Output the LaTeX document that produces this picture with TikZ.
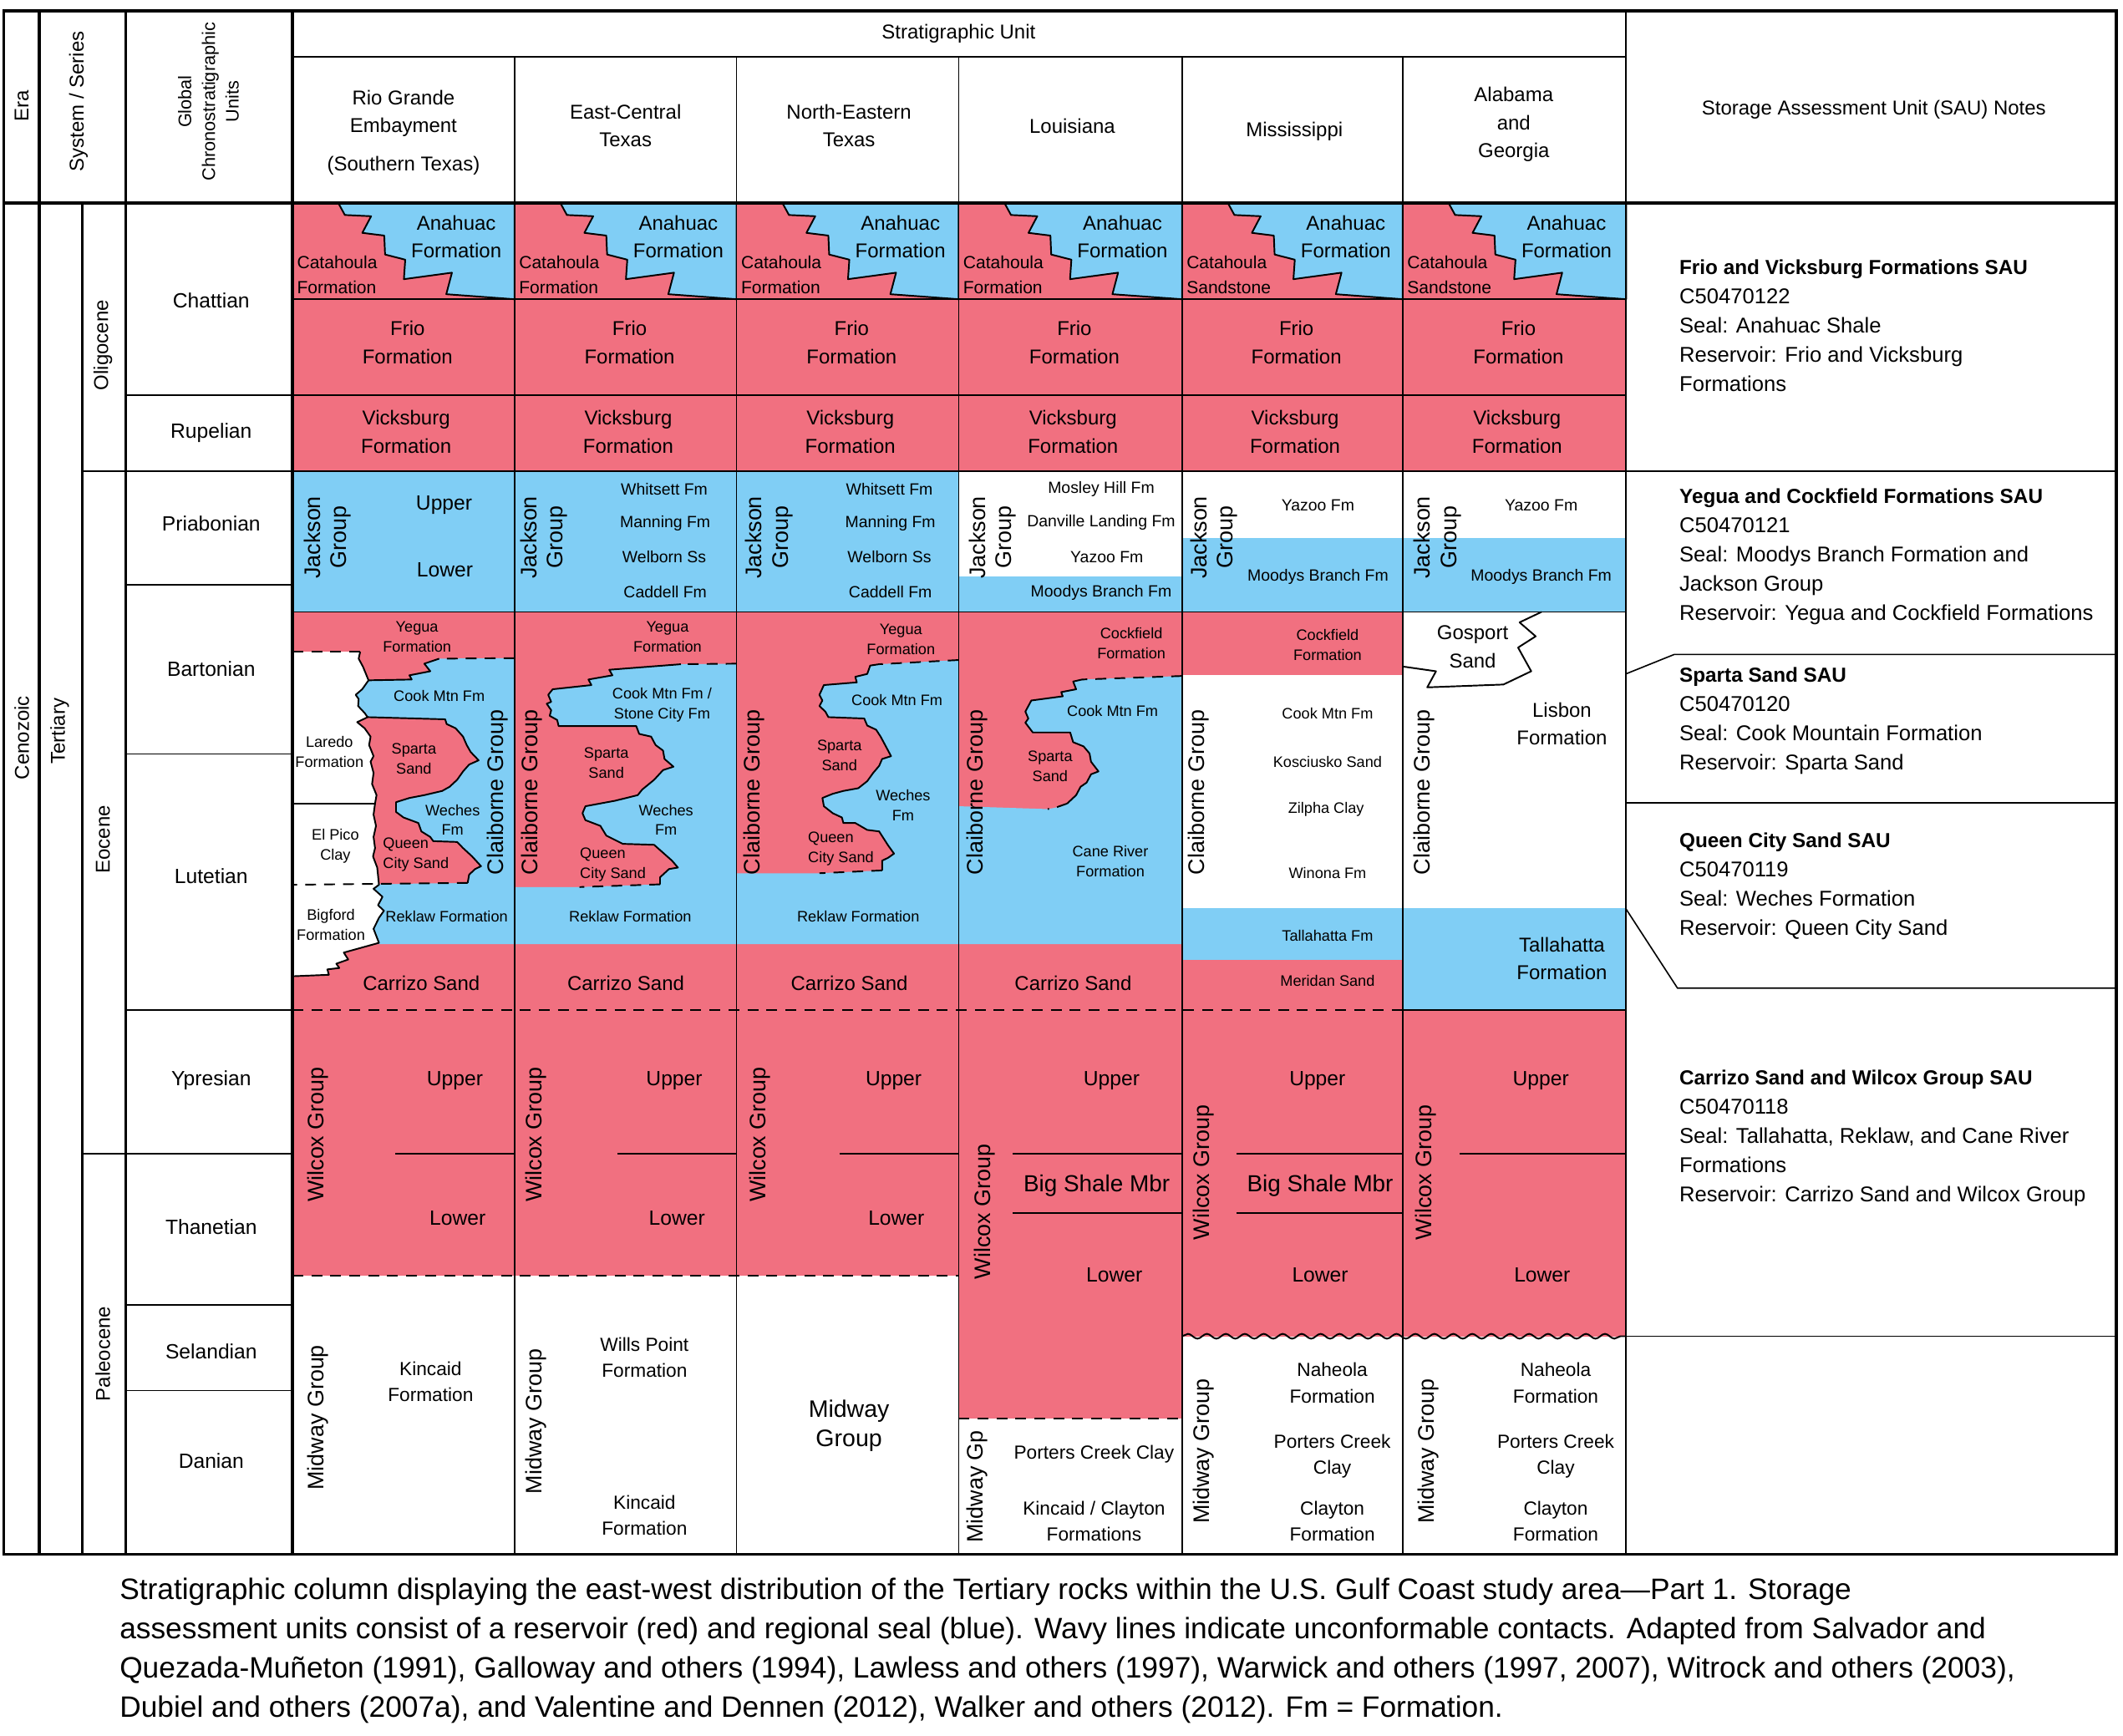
\documentclass[tikz,border=0pt]{standalone}
\usepackage{fontspec}
\setmainfont{Liberation Sans}
\usetikzlibrary{decorations.pathmorphing}
\definecolor{resred}{RGB}{241,112,128}
\definecolor{sealblue}{RGB}{128,206,245}
\newcommand{\fs}[2]{\fontsize{#1}{#2}\selectfont}
\begin{document}
\begin{tikzpicture}[x=0.5pt,y=-0.5pt,
  frame/.style={line width=1pt},
  rule/.style={line width=0.5pt},
  res/.style={fill=resred},
  seal/.style={fill=sealblue},
  contact/.style={line width=0.6pt,line join=round},
  uncon/.style={line width=0.6pt,dash pattern=on 4pt off 3pt},
  wavy/.style={line width=0.6pt,decorate,decoration={snake,amplitude=0.9pt,segment length=7pt}},
  hdr/.style={font=\fs{7.4}{10.3},align=center,inner sep=0pt},
  unit/.style={font=\fs{7.4}{10.3},align=center,inner sep=0pt},
  sub/.style={font=\fs{7.6}{10},align=center,inner sep=0pt},
  pal/.style={font=\fs{7}{9.6},align=center,inner sep=0pt},
  sm/.style={font=\fs{5.6}{7.4},align=center,inner sep=0pt},
  md/.style={font=\fs{6}{8},align=center,inner sep=0pt},
  grp/.style={font=\fs{8.3}{9.7},align=center,inner sep=0pt,rotate=90},
  stage/.style={font=\fs{7.6}{10},inner sep=0pt},
  sau/.style={font=\fs{7.9}{10.8},align=left,anchor=north west,inner sep=0pt}]
\useasboundingbox (0,0) rectangle (1568,1282);
\fill[white] (0,0) rectangle (1568,1282);

% Oligocene: Catahoula / Anahuac, Frio, Vicksburg in every column
\foreach \l/\r/\cat [count=\i] in {216/380/Formation,380/544/Formation,544/708/Formation,708/873/Formation,873/1036/Sandstone,1036/1201/Sandstone}{
  \fill[res] (\l,150) rectangle (\r,348);
  \filldraw[seal,draw=black,contact] ({\l+33.9},150) -- ({\l+38.7},158.8) -- ({\l+58.1},159.7) -- ({\l+51.6},172) -- ({\l+67.8},174) -- ({\l+68.4},188) -- ({\l+83.3},191.8) -- ({\l+82.3},206.2) -- ({\l+117.8},201.4) -- ({\l+113.6},217.3) -- (\r,221) -- (\r,150) -- cycle;
  \node[unit] (anahuac-\i) at ({\l+121},175) {Anahuac\\Formation};
  \node[font=\fs{6.5}{9},align=left,inner sep=0pt,anchor=west] (catahoula-\i) at ({\l+3},203) {Catahoula\\\cat};
  \node[unit] (frio-\i) at ({(\l+\r)/2+3},253) {Frio\\Formation};
  \node[unit] (vicksburg-\i) at ({(\l+\r)/2+2},319) {Vicksburg\\Formation};
}

% Rio Grande Embayment
\fill[seal] (216,348) rectangle (380,452);
\fill[res] (216,452) rectangle (380,746);
\fill[seal] (380,486.1) -- (324.4,486.5) -- (313.4,490.2) -- (317.8,495.8) -- (302.4,498.8) -- (304.1,501.9) -- (250,502.5) -- (250,697.4) -- (380,697.4) -- cycle;
\fill[res] (250,529.7) -- (328.8,531.3) -- (329.9,534.8) -- (336.5,537.9) -- (342.0,544.1) -- (344.7,550.3) -- (347.6,555.4) -- (353.5,561.6) -- (346.5,564.7) -- (342.0,569.8) -- (337.6,576.0) -- (332.1,581.1) -- (326.6,584.2) -- (313.4,587.3) -- (302.4,589.4) -- (292.5,592.5) -- (292.5,599.7) -- (298.0,603.8) -- (309.0,607.9) -- (311.2,614.1) -- (317.8,618.2) -- (320.0,621.3) -- (337.6,621.9) -- (342.0,626.4) -- (348.7,632.6) -- (355.3,639.8) -- (350.9,641.9) -- (346.5,646.0) -- (345.4,652.1) -- (250,653.5) -- cycle;
\fill[white] (216,481.4) -- (266.0,481.4) -- (264.9,486.5) -- (268.2,492.7) -- (272.2,502.5) -- (267.5,509.1) -- (262.7,513.2) -- (264.9,516.3) -- (264.5,521.5) -- (269.3,526.6) -- (271.5,529.7) -- (263.8,533.4) -- (269.3,537.9) -- (273.7,544.1) -- (272.6,550.3) -- (275.9,558.5) -- (273.7,562.6) -- (275.9,570.9) -- (274.8,579.1) -- (278.1,587.3) -- (277.0,593.5) -- (275.9,601.7) -- (277.7,610.0) -- (275.9,618.2) -- (277.0,626.4) -- (275.5,632.6) -- (278.6,640.8) -- (279.9,653.5) -- (275.9,656.5) -- (282.5,662.4) -- (279.2,668.6) -- (283.6,672.7) -- (279.9,677.9) -- (275.9,686.1) -- (279.9,696.4) -- (253.9,703.6) -- (257.2,708.7) -- (248.4,711.8) -- (250.6,715.0) -- (241.8,716.0) -- (242.9,720.0) -- (216,721.1) -- cycle;
\draw[contact] (266.0,481.4) -- (264.9,486.5) -- (268.2,492.7) -- (272.2,502.5) -- (267.5,509.1) -- (262.7,513.2) -- (264.9,516.3) -- (264.5,521.5) -- (269.3,526.6) -- (271.5,529.7) -- (263.8,533.4) -- (269.3,537.9) -- (273.7,544.1) -- (272.6,550.3) -- (275.9,558.5) -- (273.7,562.6) -- (275.9,570.9) -- (274.8,579.1) -- (278.1,587.3) -- (277.0,593.5) -- (275.9,601.7) -- (277.7,610.0) -- (275.9,618.2) -- (277.0,626.4) -- (275.5,632.6) -- (278.6,640.8) -- (279.9,653.5) -- (275.9,656.5) -- (282.5,662.4) -- (279.2,668.6) -- (283.6,672.7) -- (279.9,677.9) -- (275.9,686.1) -- (279.9,696.4) -- (253.9,703.6) -- (257.2,708.7) -- (248.4,711.8) -- (250.6,715.0) -- (241.8,716.0) -- (242.9,720.0) -- (216,721.1);
\draw[uncon] (216,481.4) -- (266.0,481.4);
\draw[uncon] (380,486.1) -- (324.4,486.5);
\draw[contact] (324.4,486.5) -- (313.4,490.2) -- (317.8,495.8) -- (302.4,498.8) -- (304.1,501.9) -- (272.2,502.5);
\draw[contact] (271.5,529.7) -- (328.8,531.3) -- (329.9,534.8) -- (336.5,537.9) -- (342.0,544.1) -- (344.7,550.3) -- (347.6,555.4) -- (353.5,561.6) -- (346.5,564.7) -- (342.0,569.8) -- (337.6,576.0) -- (332.1,581.1) -- (326.6,584.2) -- (313.4,587.3) -- (302.4,589.4) -- (292.5,592.5) -- (292.5,599.7) -- (298.0,603.8) -- (309.0,607.9) -- (311.2,614.1) -- (317.8,618.2) -- (320.0,621.3) -- (337.6,621.9) -- (342.0,626.4) -- (348.7,632.6) -- (355.3,639.8) -- (350.9,641.9) -- (346.5,646.0) -- (345.4,652.1);
\draw[uncon] (345.4,652.1) -- (216,653.5);
\draw[contact] (216,593.5) -- (277.0,593.5);

% East-Central Texas
\fill[seal] (380,348) rectangle (544,452);
\fill[res] (380,452) rectangle (544,746);
\fill[seal] (544,490.2) -- (502.9,490.6) -- (450.0,494.7) -- (452.3,498.8) -- (434.6,501.9) -- (436.8,506.0) -- (408.2,509.1) -- (404.9,513.2) -- (407.1,518.4) -- (403.8,519.8) -- (407.1,524.6) -- (406.0,528.7) -- (411.5,531.8) -- (412.6,536.3) -- (469.9,536.3) -- (472.1,542.1) -- (480.9,544.1) -- (484.2,550.3) -- (489.7,554.4) -- (490.8,560.6) -- (497.4,566.3) -- (489.7,568.8) -- (483.1,576.0) -- (474.3,583.2) -- (471.0,587.3) -- (454.5,591.4) -- (432.4,595.5) -- (430.2,600.7) -- (432.4,605.8) -- (443.4,610.0) -- (447.8,617.2) -- (460.0,623.3) -- (483.1,624.0) -- (496.3,635.7) -- (500.7,640.8) -- (494.1,641.9) -- (487.5,648.0) -- (487.5,653.2) -- (428.0,655.2) -- (380,655.2) -- (380,697.4) -- (544,697.4) -- cycle;
\draw[uncon] (544,490.2) -- (502.9,490.6);
\draw[contact] (502.9,490.6) -- (450.0,494.7) -- (452.3,498.8) -- (434.6,501.9) -- (436.8,506.0) -- (408.2,509.1) -- (404.9,513.2) -- (407.1,518.4) -- (403.8,519.8) -- (407.1,524.6) -- (406.0,528.7) -- (411.5,531.8) -- (412.6,536.3) -- (469.9,536.3) -- (472.1,542.1) -- (480.9,544.1) -- (484.2,550.3) -- (489.7,554.4) -- (490.8,560.6) -- (497.4,566.3) -- (489.7,568.8) -- (483.1,576.0) -- (474.3,583.2) -- (471.0,587.3) -- (454.5,591.4) -- (432.4,595.5) -- (430.2,600.7) -- (432.4,605.8) -- (443.4,610.0) -- (447.8,617.2) -- (460.0,623.3) -- (483.1,624.0) -- (496.3,635.7) -- (500.7,640.8) -- (494.1,641.9) -- (487.5,648.0) -- (487.5,653.2);
\draw[uncon] (487.5,653.2) -- (428.0,655.2);

% North-Eastern Texas
\fill[seal] (544,348) rectangle (708,452);
\fill[res] (544,452) rectangle (708,746);
\fill[seal] (708,487.5) -- (649.3,490.6) -- (642.7,491.6) -- (640.5,497.8) -- (631.7,499.9) -- (632.8,504.0) -- (608.5,506.0) -- (605.2,513.2) -- (607.4,517.4) -- (605.2,521.5) -- (609.6,525.6) -- (611.8,529.7) -- (638.3,530.7) -- (640.5,535.9) -- (647.1,539.0) -- (650.4,544.1) -- (652.6,548.2) -- (654.8,552.3) -- (658.1,558.5) -- (651.5,560.6) -- (649.3,565.7) -- (644.9,570.9) -- (640.5,577.0) -- (633.9,582.2) -- (622.9,584.2) -- (615.1,586.3) -- (607.4,589.4) -- (608.5,595.5) -- (615.1,600.7) -- (621.8,603.8) -- (622.9,607.9) -- (631.7,607.9) -- (640.5,613.0) -- (649.3,614.1) -- (655.9,624.4) -- (660.3,630.5) -- (655.9,633.6) -- (651.5,635.7) -- (651.5,642.9) -- (605.2,645.0) -- (544,645.0) -- (544,697.4) -- (708,697.4) -- cycle;
\draw[uncon] (708,487.5) -- (649.3,490.6);
\draw[contact] (649.3,490.6) -- (642.7,491.6) -- (640.5,497.8) -- (631.7,499.9) -- (632.8,504.0) -- (608.5,506.0) -- (605.2,513.2) -- (607.4,517.4) -- (605.2,521.5) -- (609.6,525.6) -- (611.8,529.7) -- (638.3,530.7) -- (640.5,535.9) -- (647.1,539.0) -- (650.4,544.1) -- (652.6,548.2) -- (654.8,552.3) -- (658.1,558.5) -- (651.5,560.6) -- (649.3,565.7) -- (644.9,570.9) -- (640.5,577.0) -- (633.9,582.2) -- (622.9,584.2) -- (615.1,586.3) -- (607.4,589.4) -- (608.5,595.5) -- (615.1,600.7) -- (621.8,603.8) -- (622.9,607.9) -- (631.7,607.9) -- (640.5,613.0) -- (649.3,614.1) -- (655.9,624.4) -- (660.3,630.5) -- (655.9,633.6) -- (651.5,635.7) -- (651.5,642.9);
\draw[uncon] (651.5,642.9) -- (605.2,645.0);

% Louisiana
\fill[white] (708,348) rectangle (873,425.8);
\fill[seal] (708,425.8) rectangle (873,452);
\fill[res] (708,452) rectangle (873,746);
\fill[seal] (873,499.3) -- (799.2,501.9) -- (792.6,503.4) -- (794.8,509.1) -- (783.8,511.2) -- (784.9,514.3) -- (761.7,517.4) -- (757.3,525.6) -- (759.5,530.7) -- (757.3,533.8) -- (762.8,541.0) -- (790.4,541.0) -- (792.6,548.2) -- (800.3,551.3) -- (804.7,556.5) -- (805.8,562.6) -- (811.3,569.8) -- (805.8,571.9) -- (802.5,578.1) -- (798.1,581.1) -- (794.8,587.3) -- (788.2,593.5) -- (779.4,596.6) -- (773.8,597.6) -- (708,595.5) -- (708,697.4) -- (873,697.4) -- cycle;
\draw[uncon] (873,499.3) -- (799.2,501.9);
\draw[contact] (799.2,501.9) -- (792.6,503.4) -- (794.8,509.1) -- (783.8,511.2) -- (784.9,514.3) -- (761.7,517.4) -- (757.3,525.6) -- (759.5,530.7) -- (757.3,533.8) -- (762.8,541.0) -- (790.4,541.0) -- (792.6,548.2) -- (800.3,551.3) -- (804.7,556.5) -- (805.8,562.6) -- (811.3,569.8) -- (805.8,571.9) -- (802.5,578.1) -- (798.1,581.1) -- (794.8,587.3) -- (788.2,593.5);
\draw[uncon] (788.2,593.5) -- (779.4,596.6) -- (773.8,597.6);

% Mississippi
\fill[white] (873,348) rectangle (1036,397.5);
\fill[seal] (873,397.5) rectangle (1036,452);
\fill[res] (873,452) rectangle (1036,498.8);
\fill[seal] (873,670.7) rectangle (1036,708.7);
\fill[res] (873,708.7) rectangle (1036,746);

% Alabama and Georgia
\fill[white] (1036,348) rectangle (1201,397.5);
\fill[seal] (1036,397.5) rectangle (1201,452);
\fill[seal] (1036,670.7) rectangle (1201,746);
\draw[contact] (1036,492.3) -- (1060.6,495.8) -- (1054.1,507.7) -- (1110.4,505.6) -- (1130.9,495.8) -- (1121.2,478.3) -- (1134.2,470.0) -- (1122.3,459.7) -- (1138.5,452);

% Wilcox Group and Midway Group
\fill[res] (216,746) rectangle (708,942);
\fill[res] (708,746) rectangle (873,1048);
\fill[res] (873,746) rectangle (1201,987);
\draw[uncon] (216,746) -- (1036,746);
\draw[rule] (1036,746) -- (1201,746);
\draw[uncon] (216,942) -- (708,942);
\draw[uncon] (708,1048) -- (873,1048);
\draw[wavy] (873,987) -- (1201,987);
\foreach \a/\b in {292/380,456/544,620/708,748/873,913/1036,1078/1201}
  \draw[rule] (\a,852) -- (\b,852);
\draw[rule] (748,896) -- (873,896);
\draw[rule] (913,896) -- (1036,896);

% grid
\draw[rule] (216,42) -- (1201,42);
\draw[rule] (216,221) -- (1201,221);
\draw[rule] (216,292) -- (1201,292);
\draw[rule] (216,348) -- (1563,348);
\draw[rule] (216,452) -- (1201,452);
\foreach \x in {380,544,708,873,1036}
  \draw[rule] (\x,42) -- (\x,1148);
\draw[rule] (1201,8) -- (1201,1148);
\foreach \y in {292,432,557,746,964,1027}
  \draw[rule] (93,\y) -- (216,\y);
\foreach \y in {348,852}
  \draw[rule] (61,\y) -- (216,\y);
\draw[frame] (3,8) rectangle (1563,1148);
\draw[frame] (3,150) -- (1563,150);
\foreach \x in {29,93,216}
  \draw[frame] (\x,8) -- (\x,1148);
\draw[frame] (61,150) -- (61,1148);
% SAU separators
\draw[rule] (1201,497.7) -- (1236.5,483.4) -- (1563,483.4);
\draw[rule] (1201,593) -- (1563,593);
\draw[rule] (1201,671.5) -- (1238.9,729.8) -- (1563,729.8);
\draw[rule] (1201,987) -- (1563,987);

% headings
\node[hdr,rotate=90] (era-h) at (16,78) {Era};
\node[hdr,rotate=90] (system-h) at (58,75) {System / Series};
\node[hdr,rotate=90,font=\fs{6.7}{8.75}] (chrono-h) at (154,75) {Global\\Chronostratigraphic\\Units};
\node[hdr] (strat-h) at (708,25) {Stratigraphic Unit};
\node[hdr] (rio-h) at (298,98) {Rio Grande\\Embayment\\[4pt](Southern Texas)};
\node[hdr] (ect-h) at (462,93) {East-Central\\Texas};
\node[hdr] (net-h) at (627,93) {North-Eastern\\Texas};
\node[hdr] (la-h) at (792,93) {Louisiana};
\node[hdr] (ms-h) at (956,97) {Mississippi};
\node[hdr] (al-h) at (1118,92) {Alabama\\and\\Georgia};
\node[hdr] (sau-h) at (1384,81) {Storage Assessment Unit (SAU) Notes};

% time scale
\node[hdr,rotate=90] (cenozoic) at (16,545) {Cenozoic};
\node[hdr,rotate=90] (tertiary) at (44,540) {Tertiary};
\node[hdr,rotate=90] (oligocene) at (76,255) {Oligocene};
\node[hdr,rotate=90] (eocene) at (76,620) {Eocene};
\node[hdr,rotate=90] (paleocene) at (76,1000) {Paleocene};
\foreach \name/\y in {Chattian/222,Rupelian/320,Priabonian/387,Bartonian/494,Lutetian/647,Ypresian/798,Thanetian/906,Selandian/998,Danian/1079}
  \node[stage] (\name) at (156,\y) {\name};

% Rio Grande Embayment labels
\node[grp] (rio-jackson) at (242,397) {Jackson\\Group};
\node[sub] (rio-upper) at (328,373) {Upper};
\node[sub] (rio-lower) at (328.6,420.7) {Lower};
\node[sm] (rio-yegua) at (308,470.5) {Yegua\\Formation};
\node[sm] (rio-cookmtn) at (324.4,514.3) {Cook Mtn Fm};
\node[sm] (rio-laredo) at (243.3,555.4) {Laredo\\Formation};
\node[sm] (rio-sparta) at (305.7,560.6) {Sparta\\Sand};
\node[sm] (rio-weches) at (334.3,605.6) {Weches\\Fm};
\node[sm] (rio-elpico) at (247.7,625.1) {El Pico\\Clay};
\node[sm,align=left,anchor=west] (rio-queen) at (282.5,631.5) {Queen\\City Sand};
\node[grp] (rio-claiborne) at (367.4,585.3) {Claiborne Group};
\node[sm] (rio-reklaw) at (329.9,676.8) {Reklaw Formation};
\node[sm] (rio-bigford) at (244.4,682.9) {Bigford\\Formation};
\node[unit] (rio-carrizo) at (311.2,726.2) {Carrizo Sand};
\node[grp] (rio-wilcox) at (235,838) {Wilcox Group};
\node[sub] (rio-wupper) at (336,798) {Upper};
\node[sub] (rio-wlower) at (338,900) {Lower};
\node[grp] (rio-midway) at (235,1047) {Midway Group};
\node[pal] (rio-kincaid) at (318,1020.5) {Kincaid\\Formation};

% East-Central Texas labels
\node[grp] (ect-jackson) at (401.8,397) {Jackson\\Group};
\node[md] (ect-whitsett) at (490.6,361.6) {Whitsett Fm};
\node[md] (ect-manning) at (491.3,386.3) {Manning Fm};
\node[md] (ect-welborn) at (490.6,411.4) {Welborn Ss};
\node[md] (ect-caddell) at (491.3,437.2) {Caddell Fm};
\node[sm] (ect-yegua) at (493,470.5) {Yegua\\Formation};
\node[sm] (ect-cookmtn) at (489,520.6) {Cook Mtn Fm /\\Stone City Fm};
\node[sm] (ect-sparta) at (447.8,563.4) {Sparta\\Sand};
\node[sm] (ect-weches) at (491.9,605.6) {Weches\\Fm};
\node[sm,align=left,anchor=west] (ect-queen) at (428,638.5) {Queen\\City Sand};
\node[grp] (ect-claiborne) at (392.7,585.3) {Claiborne Group};
\node[sm] (ect-reklaw) at (465.5,676.8) {Reklaw Formation};
\node[unit] (ect-carrizo) at (462.2,726.2) {Carrizo Sand};
\node[grp] (ect-wilcox) at (396,838) {Wilcox Group};
\node[sub] (ect-wupper) at (498,798) {Upper};
\node[sub] (ect-wlower) at (500,900) {Lower};
\node[grp] (ect-midway) at (396,1050) {Midway Group};
\node[pal] (ect-willspoint) at (476,1002.5) {Wills Point\\Formation};
\node[pal] (ect-kincaid) at (476,1119.5) {Kincaid\\Formation};

% North-Eastern Texas labels
\node[grp] (net-jackson) at (568.1,397) {Jackson\\Group};
\node[md] (net-whitsett) at (656.9,361.6) {Whitsett Fm};
\node[md] (net-manning) at (657.6,386.3) {Manning Fm};
\node[md] (net-welborn) at (656.9,411.4) {Welborn Ss};
\node[md] (net-caddell) at (657.6,437.2) {Caddell Fm};
\node[sm] (net-yegua) at (665.4,472.3) {Yegua\\Formation};
\node[sm] (net-cookmtn) at (662.5,517.4) {Cook Mtn Fm};
\node[sm] (net-sparta) at (620,557.7) {Sparta\\Sand};
\node[sm] (net-weches) at (667,594.5) {Weches\\Fm};
\node[sm,align=left,anchor=west] (net-queen) at (596.4,626.9) {Queen\\City Sand};
\node[grp] (net-claiborne) at (556.7,585.3) {Claiborne Group};
\node[sm] (net-reklaw) at (633.9,676.8) {Reklaw Formation};
\node[unit] (net-carrizo) at (627.3,726.2) {Carrizo Sand};
\node[grp] (net-wilcox) at (561,838) {Wilcox Group};
\node[sub] (net-wupper) at (660,798) {Upper};
\node[sub] (net-wlower) at (662,900) {Lower};
\node[font=\fs{8.8}{11},align=center,inner sep=0pt] (net-midway) at (627,1053) {Midway\\Group};

% Louisiana labels
\node[grp] (la-jackson) at (733.2,397) {Jackson\\Group};
\node[md] (la-mosley) at (813.3,361) {Mosley Hill Fm};
\node[md] (la-danville) at (813.3,385.7) {Danville Landing Fm};
\node[md] (la-yazoo) at (817.5,411.4) {Yazoo Fm};
\node[md] (la-moodys) at (813.3,437.8) {Moodys Branch Fm};
\node[sm] (la-cockfield) at (835.6,474.9) {Cockfield\\Formation};
\node[sm] (la-cookmtn) at (821.7,525) {Cook Mtn Fm};
\node[sm] (la-sparta) at (775.6,566.1) {Sparta\\Sand};
\node[sm] (la-caneriver) at (820.1,636) {Cane River\\Formation};
\node[grp] (la-claiborne) at (722,585.3) {Claiborne Group};
\node[unit] (la-carrizo) at (792.6,726.2) {Carrizo Sand};
\node[grp] (la-wilcox) at (727,895) {Wilcox Group};
\node[sub] (la-wupper) at (821,798) {Upper};
\node[font=\fs{8.6}{10},inner sep=0pt] (la-bigshale) at (810,876) {Big Shale Mbr};
\node[sub] (la-wlower) at (823,942) {Lower};
\node[grp] (la-midway) at (722,1098) {Midway Gp};
\node[pal] (la-porters) at (808,1074) {Porters Creek Clay};
\node[pal] (la-kincaid) at (808,1123.5) {Kincaid / Clayton\\Formations};

% Mississippi labels
\node[grp] (ms-jackson) at (896.6,397) {Jackson\\Group};
\node[md] (ms-yazoo) at (973.4,373.4) {Yazoo Fm};
\node[md] (ms-moodys) at (973.4,425.8) {Moodys Branch Fm};
\node[sm] (ms-cockfield) at (980.5,476.3) {Cockfield\\Formation};
\node[sm] (ms-cookmtn) at (980.5,527.2) {Cook Mtn Fm};
\node[sm] (ms-kosciusko) at (980.5,562.6) {Kosciusko Sand};
\node[sm] (ms-zilpha) at (979.4,597.6) {Zilpha Clay};
\node[sm] (ms-winona) at (980.5,645) {Winona Fm};
\node[grp] (ms-claiborne) at (885.3,585.3) {Claiborne Group};
\node[sm] (ms-tallahatta) at (980.5,691.2) {Tallahatta Fm};
\node[sm] (ms-meridan) at (980.5,724.2) {Meridan Sand};
\node[grp] (ms-wilcox) at (889,866) {Wilcox Group};
\node[sub] (ms-wupper) at (973,798) {Upper};
\node[font=\fs{8.6}{10},inner sep=0pt] (ms-bigshale) at (975,876) {Big Shale Mbr};
\node[sub] (ms-wlower) at (975,942) {Lower};
\node[grp] (ms-midway) at (889,1072) {Midway Group};
\node[pal] (ms-naheola) at (984,1021.5) {Naheola\\Formation};
\node[pal] (ms-porters) at (984,1075.5) {Porters Creek\\Clay};
\node[pal] (ms-clayton) at (984,1123.5) {Clayton\\Formation};

% Alabama and Georgia labels
\node[grp] (al-jackson) at (1061.6,397) {Jackson\\Group};
\node[md] (al-yazoo) at (1138.3,373.4) {Yazoo Fm};
\node[md] (al-moodys) at (1138.3,425.8) {Moodys Branch Fm};
\node[unit] (al-gosport) at (1087.6,477.7) {Gosport\\Sand};
\node[unit] (al-lisbon) at (1153.6,534.6) {Lisbon\\Formation};
\node[grp] (al-claiborne) at (1051.9,585.3) {Claiborne Group};
\node[unit] (al-tallahatta) at (1153.6,708.2) {Tallahatta\\Formation};
\node[grp] (al-wilcox) at (1053,866) {Wilcox Group};
\node[sub] (al-wupper) at (1138,798) {Upper};
\node[sub] (al-wlower) at (1139,942) {Lower};
\node[grp] (al-midway) at (1055,1072) {Midway Group};
\node[pal] (al-naheola) at (1149,1021.5) {Naheola\\Formation};
\node[pal] (al-porters) at (1149,1075.5) {Porters Creek\\Clay};
\node[pal] (al-clayton) at (1149,1123.5) {Clayton\\Formation};

% SAU notes
\node[sau] (sau-frio) at (1240,191.5) {\textbf{\fs{7.5}{10.8}Frio and Vicksburg Formations SAU}\\C50470122\\Seal: Anahuac Shale\\Reservoir: Frio and Vicksburg\\Formations};
\node[sau] (sau-yegua) at (1240,360.7) {\textbf{\fs{7.5}{10.8}Yegua and Cockfield Formations SAU}\\C50470121\\Seal: Moodys Branch Formation and\\Jackson Group\\Reservoir: Yegua and Cockfield Formations};
\node[sau] (sau-sparta) at (1240,492.6) {\textbf{\fs{7.5}{10.8}Sparta Sand SAU}\\C50470120\\Seal: Cook Mountain Formation\\Reservoir: Sparta Sand};
\node[sau] (sau-queen) at (1240,614.5) {\textbf{\fs{7.5}{10.8}Queen City Sand SAU}\\C50470119\\Seal: Weches Formation\\Reservoir: Queen City Sand};
\node[sau] (sau-carrizo) at (1240,790.2) {\textbf{\fs{7.5}{10.8}Carrizo Sand and Wilcox Group SAU}\\C50470118\\Seal: Tallahatta, Reklaw, and Cane River\\Formations\\Reservoir: Carrizo Sand and Wilcox Group};

% caption
\node[font=\fs{10.9}{14.5},align=left,anchor=north west,inner sep=0pt] (caption) at (88,1165) {Stratigraphic column displaying the east-west distribution of the Tertiary rocks within the U.S. Gulf Coast study area---Part 1. Storage\\assessment units consist of a reservoir (red) and regional seal (blue). Wavy lines indicate unconformable contacts. Adapted from Salvador and\\Quezada-Muñeton (1991), Galloway and others (1994), Lawless and others (1997), Warwick and others (1997, 2007), Witrock and others (2003),\\Dubiel and others (2007a), and Valentine and Dennen (2012), Walker and others (2012). Fm = Formation.};
\end{tikzpicture}
\end{document}
